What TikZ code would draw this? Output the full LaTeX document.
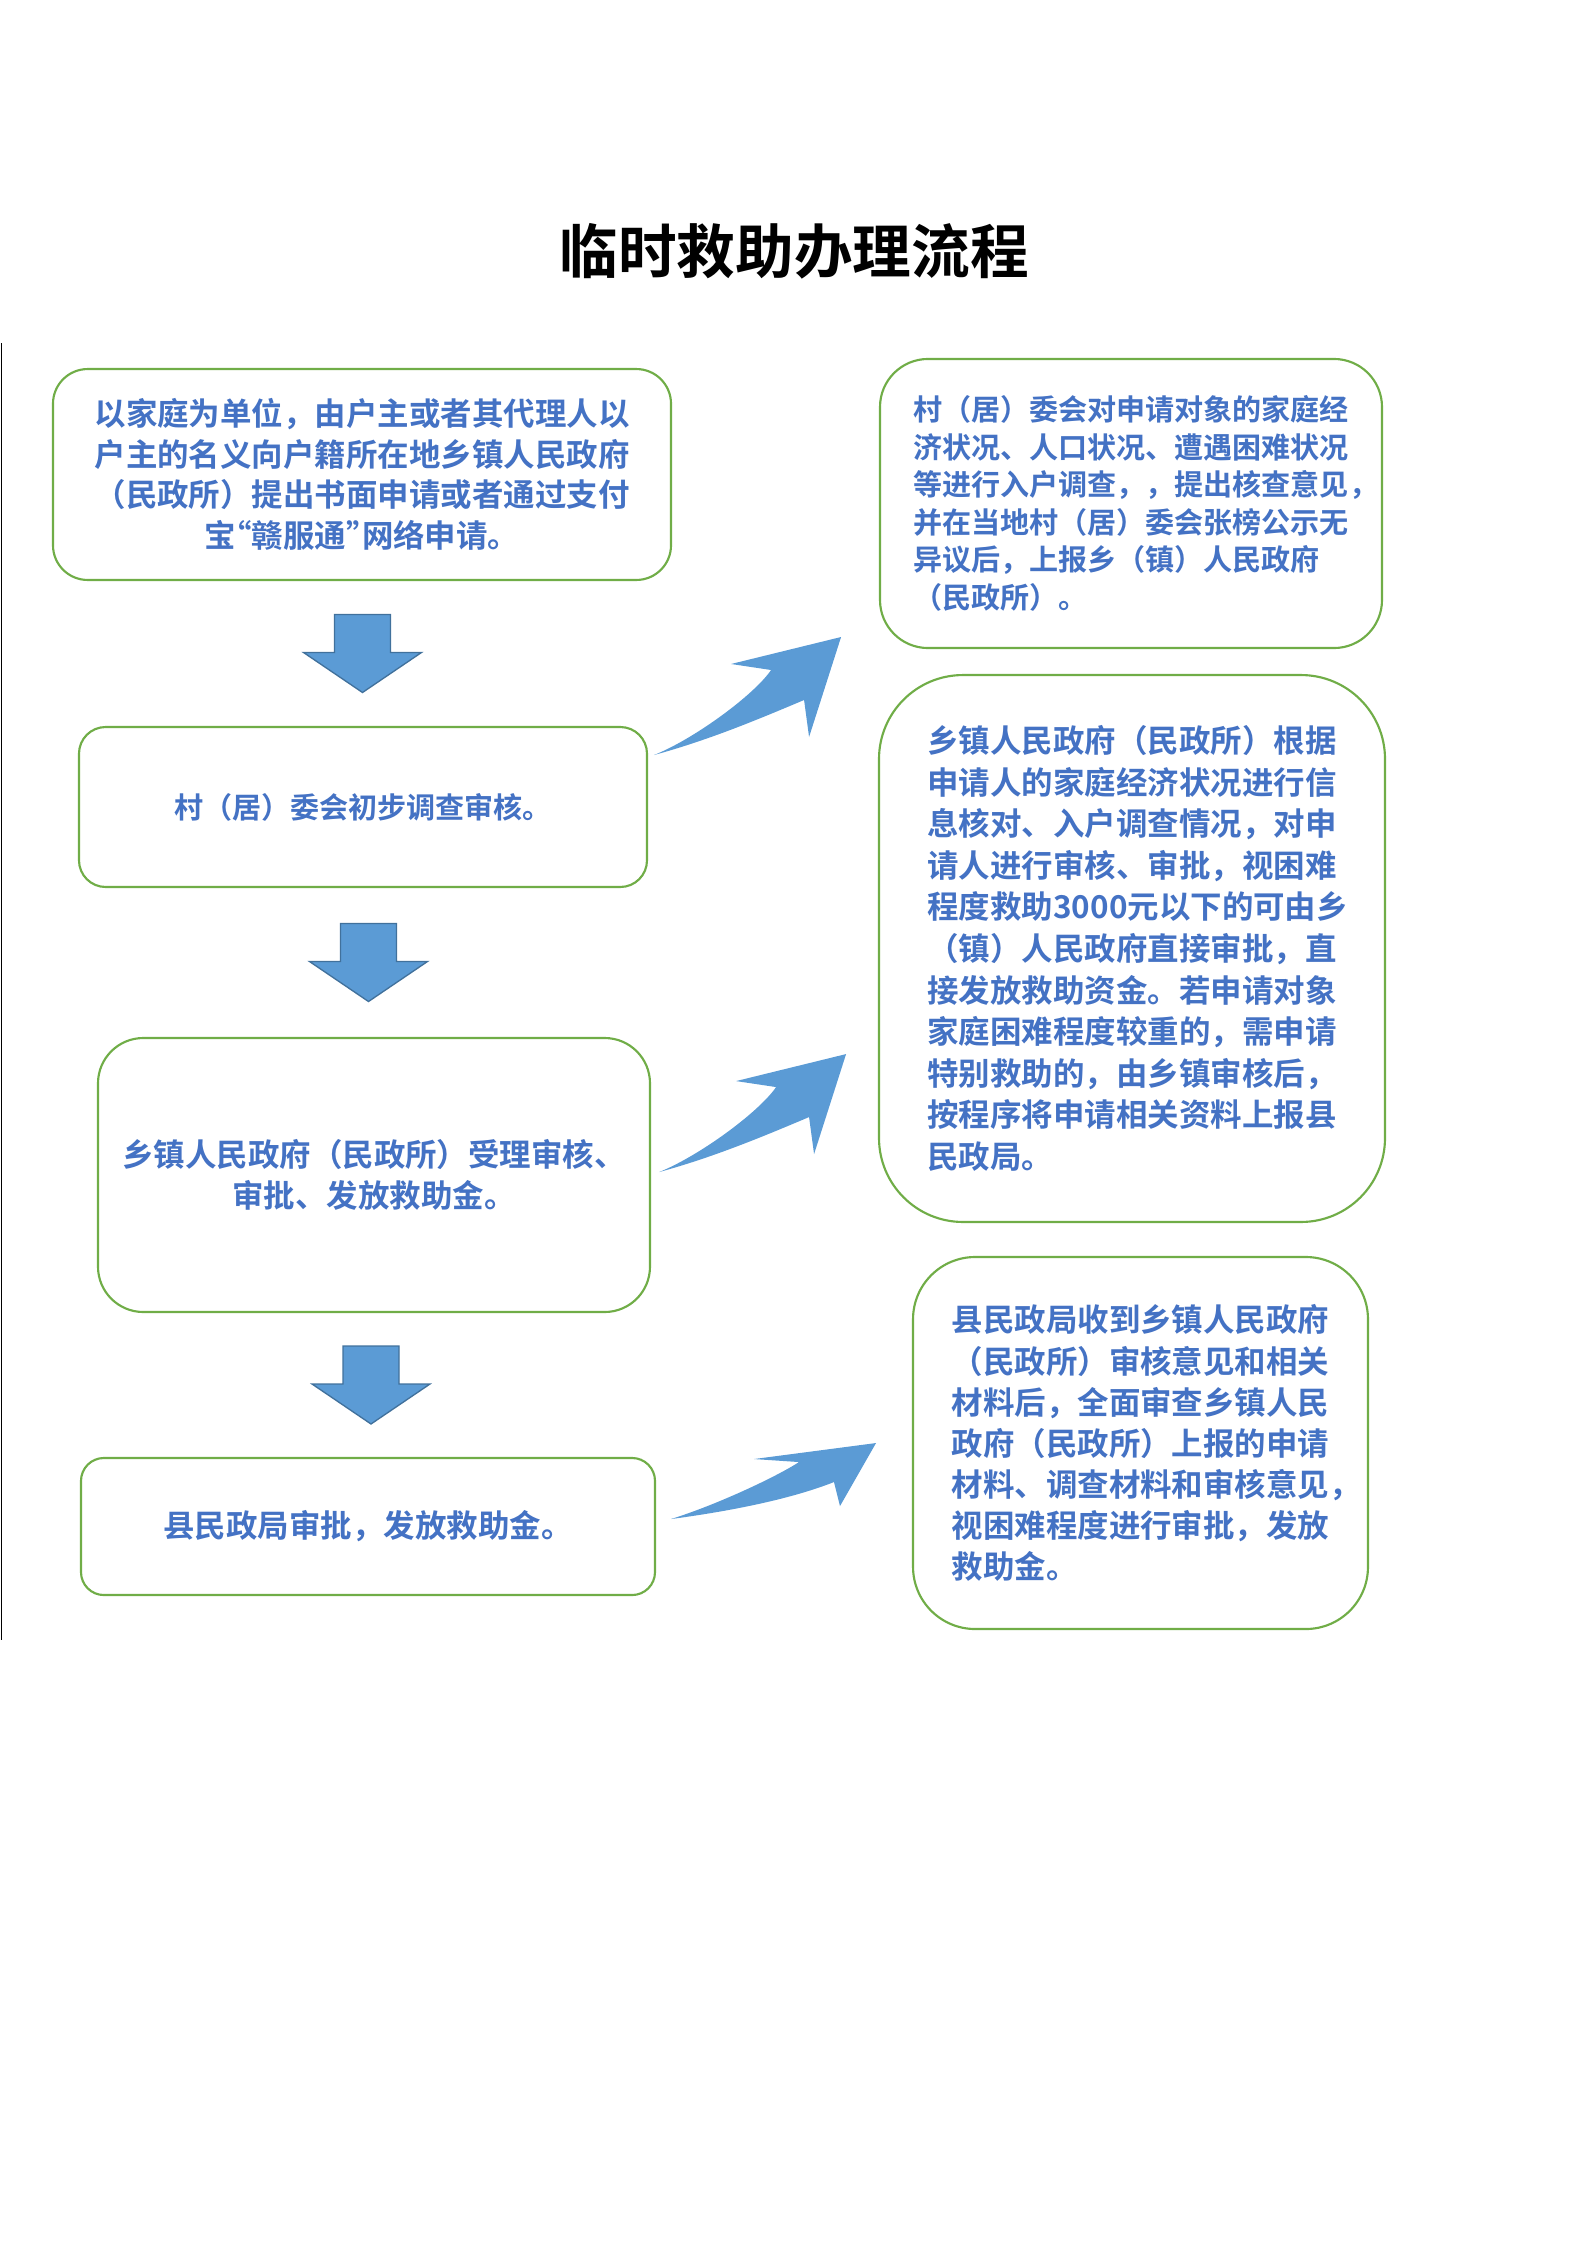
\documentclass[tikz,border=0pt]{standalone}
\usepackage{fontspec}
\usetikzlibrary{calc}
\newfontfamily\titlefont{Noto Sans CJK SC Bold}
\newfontfamily\boxfont{Noto Sans CJK SC Bold}
\definecolor{boxgreen}{HTML}{70AD47}
\definecolor{textblue}{HTML}{4472C4}
\definecolor{arrowblue}{HTML}{5B9BD5}
\definecolor{arrowedge}{HTML}{41719C}
\newcommand\openq{\makebox[.5em][r]{“}}
\newcommand\closeq{\makebox[.5em][l]{”}}
\begin{document}
\begin{tikzpicture}[x = .375pt, y = -.375pt,
    flowbox/.style = {draw = boxgreen, line width = .8pt, fill = white, inner sep = 0pt,
      text = textblue, font = \boxfont\fontsize{11.8pt}{15.2pt}\selectfont},
    downarrow/.pic = {
      \filldraw [fill = arrowblue, draw = arrowedge, line width = .5pt]
        (-28,-39) -- (28,-39) -- (28,-1) -- (59,-1) -- (0,39) -- (-59,-1) -- (-28,-1) -- cycle;},
    bentarrow/.pic = {
      \fill [arrowblue] (0,0) .. controls (55,-15) and (105,-36) .. (150,-55)
        -- (155,-18) -- (187,-118) -- (77,-91) -- (117,-85)
        .. controls (100,-60) and (40,-16) .. (0,0) -- cycle;},
    flatarrow/.pic = {
      \fill [arrowblue] (0,0) .. controls (60,-8) and (120,-20) .. (163,-37)
        -- (169,-13) -- (205,-76) -- (83,-60) -- (128,-57)
        .. controls (105,-42) and (45,-14) .. (0,0) -- cycle;}]
  \useasboundingbox (0,0) rectangle (1587,2245);
  \draw [line width = .6pt] (1.5,343) -- (1.5,1640);
  \node [font = \titlefont\fontsize{22pt}{26pt}\selectfont] (title) at (794,251) {临时救助办理流程};

  \node [flowbox, minimum width = 231.75pt, minimum height = 79.1pt, rounded corners = 13pt,
    align = center] (apply) at (362,474.5)
    {以家庭为单位，由户主或者其代理人以\\户主的名义向户籍所在地乡镇人民政府\\（民政所）提出书面申请或者通过支付\\宝\openq 赣服通\closeq 网络申请。};
  \node [flowbox, minimum width = 213pt, minimum height = 60pt, rounded corners = 10pt,
    font = \boxfont\fontsize{10.9pt}{14pt}\selectfont] (village) at (363,807)
    {村（居）委会初步调查审核。};
  \node [flowbox, minimum width = 207pt, minimum height = 102.75pt, rounded corners = 17pt,
    align = center] (township) at (374,1175)
    {乡镇人民政府（民政所）受理审核、\\审批、发放救助金。};
  \node [flowbox, minimum width = 215.25pt, minimum height = 51.4pt, rounded corners = 8.6pt]
    (county) at (368,1526.5) {县民政局审批，发放救助金。};

  \node [flowbox, minimum width = 188.25pt, minimum height = 108.4pt, rounded corners = 18pt,
    text width = 163.5pt, align = left, font = \boxfont\fontsize{10.9pt}{14.1pt}\selectfont]
    (publicize) at (1131,503.5)
    {村（居）委会对申请对象的家庭经\\济状况、人口状况、遭遇困难状况\\等进行入户调查，，提出核查意见，\\并在当地村（居）委会张榜公示无\\异议后，上报乡（镇）人民政府\\（民政所）。};
  \node [flowbox, minimum width = 189.75pt, minimum height = 205.1pt, rounded corners = 31.5pt,
    text width = 153.4pt, align = left, font = \boxfont\fontsize{11.8pt}{15.6pt}\selectfont]
    (review) at (1132,948.5)
    {乡镇人民政府（民政所）根据\\申请人的家庭经济状况进行信\\息核对、入户调查情况，对申\\请人进行审核、审批，视困难\\程度救助3000元以下的可由乡\\（镇）人民政府直接审批，直\\接发放救助资金。若申请对象\\家庭困难程度较重的，需申请\\特别救助的，由乡镇审核后，\\按程序将申请相关资料上报县\\民政局。};
  \node [flowbox, minimum width = 170.6pt, minimum height = 139.5pt, rounded corners = 23.3pt,
    text width = 141.6pt, align = left, font = \boxfont\fontsize{11.8pt}{15.4pt}\selectfont]
    (countyreview) at (1140.5,1443)
    {县民政局收到乡镇人民政府\\（民政所）审核意见和相关\\材料后，全面审查乡镇人民\\政府（民政所）上报的申请\\材料、调查材料和审核意见，\\视困难程度进行审批，发放\\救助金。};

  \pic at ($(apply.south)!.5!(village.north)$) {downarrow};
  \pic at ($(village.south)!.5!(township.north)$) {downarrow};
  \pic at ($(township.south)!.5!(county.north)$) {downarrow};
  \pic at ([xshift = 2.25pt, yshift = 19.5pt] village.east) {bentarrow};
  \pic at ([xshift = 3pt, yshift = 1.1pt] township.east) {bentarrow};
  \pic at ([xshift = 5.6pt, yshift = 2.8pt] county.east) {flatarrow};
\end{tikzpicture}
\end{document}
